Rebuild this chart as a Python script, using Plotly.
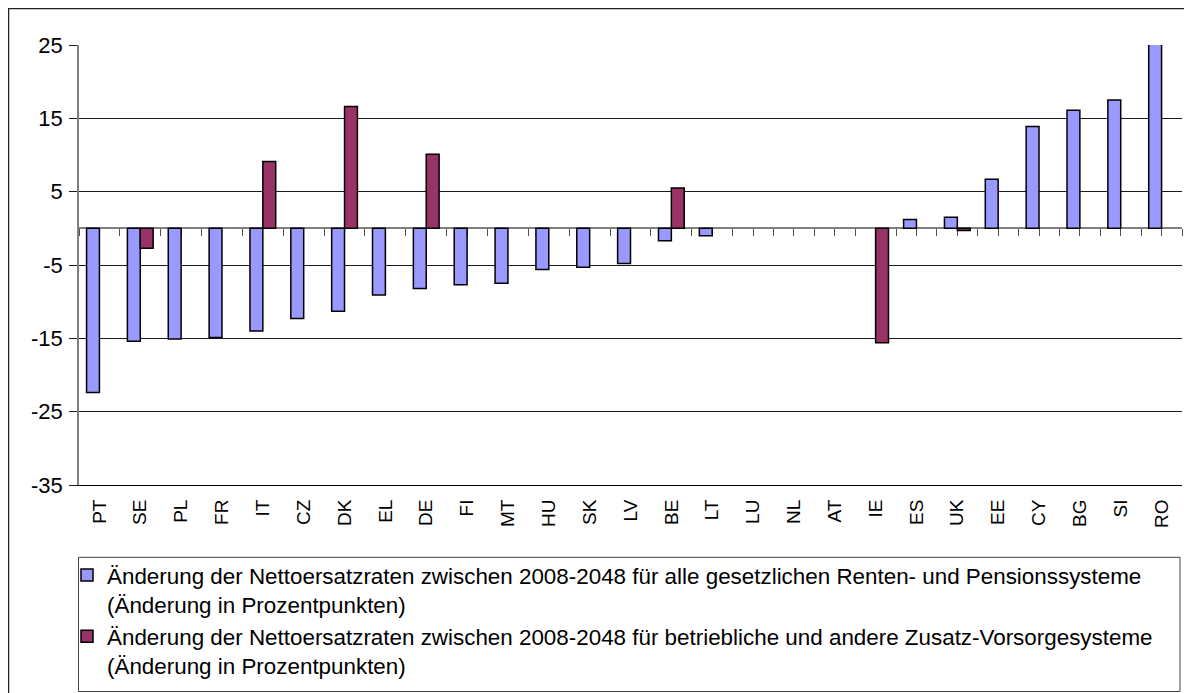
import plotly.graph_objects as go

countries = ["PT", "SE", "PL", "FR", "IT", "CZ", "DK", "EL", "DE", "FI", "MT", "HU", "SK", "LV",
             "BE", "LT", "LU", "NL", "AT", "IE", "ES", "UK", "EE", "CY", "BG", "SI", "RO"]

public_change = [-22.4, -15.4, -15.1, -14.9, -14.0, -12.3, -11.3, -9.1, -8.2, -7.7, -7.5, -5.6, -5.3, -4.8,
                 -1.7, -1.0, None, None, None, None, 1.2, 1.5, 6.7, 13.9, 16.1, 17.5, 25.4]

private_change = [None, -2.7, None, None, 9.1, None, 16.6, None, 10.1, None, None, None, None, None,
                  5.5, None, None, None, None, -15.6, None, -0.3, None, None, None, None, None]

y_ticks = [-35, -25, -15, -5, 5, 15, 25]
y_tick_labels = ["-35", "-25", "-15", "-5", "5", "15", "25"]

name_public = ("Änderung der Nettoersatzraten zwischen 2008-2048 für alle gesetzlichen Renten- und Pensionssysteme"
               "<br>(Änderung in Prozentpunkten)")
name_private = ("Änderung der Nettoersatzraten zwischen 2008-2048 für betriebliche und andere Zusatz-Vorsorgesysteme"
                "<br>(Änderung in Prozentpunkten)")

FONT = "Arial, 'Liberation Sans', sans-serif"

# figure geometry (page has an 8px body margin)
W, H = 1184, 685
ml, mr, mt, mb = 71, 10, 37, 208
pw, ph = W - ml - mr, H - mt - mb


def px_x(p):
    return (p - ml) / pw


def px_y(p):
    return (H - mb - p) / ph


n = len(countries)
ymin, ymax = -35, 25
zero_pos = (0 - ymin) / (ymax - ymin)
half_ticks = [i / 2 - 0.5 for i in range(2 * n + 1)]

fig = go.Figure()
fig.add_trace(go.Bar(x=countries, y=public_change, name=name_public, legendgroup="a",
                     marker=dict(color="#9999FF", line=dict(color="#000000", width=1.5)),
                     cliponaxis=False))
fig.add_trace(go.Bar(x=countries, y=private_change, name=name_private, legendgroup="b",
                     marker=dict(color="#993366", line=dict(color="#000000", width=1.5)),
                     cliponaxis=False))
# empty helper trace so the zero-crossing category axis (ticks) is drawn
fig.add_trace(go.Scatter(x=[], y=[], xaxis="x2", yaxis="y", showlegend=False, hoverinfo="skip"))

fig.update_layout(
    width=W, height=H,
    margin=dict(l=ml, r=mr, t=mt, b=mb, autoexpand=False),
    paper_bgcolor="white", plot_bgcolor="white",
    barmode="group", bargap=0.37, bargroupgap=0,
    font=dict(family=FONT, color="#000000"),
    showlegend=True,
    legend=dict(
        x=px_x(59), y=px_y(546), xanchor="left", yanchor="top",
        font=dict(family=FONT, size=22.4, color="#000000"),
        bgcolor="rgba(0,0,0,0)", borderwidth=0,
        tracegroupgap=0, valign="top", itemwidth=30,
    ),
    xaxis=dict(
        type="category", categoryorder="array", categoryarray=countries,
        range=[-0.5, n - 0.5], automargin=False,
        showgrid=False, showline=True, linecolor="#000000", linewidth=1,
        ticks="", tickangle=-90, ticklabelstandoff=6,
        tickfont=dict(family=FONT, size=19, color="#000000"),
        zeroline=False,
    ),
    xaxis2=dict(
        overlaying="x", anchor="free", position=zero_pos, type="linear", side="bottom",
        range=[-0.5, n - 0.5], showgrid=False, zeroline=False, automargin=False,
        showline=True, linecolor="#808080", linewidth=1.5,
        tickmode="array", tickvals=half_ticks, ticks="outside", ticklen=7,
        tickcolor="#505050", tickwidth=1, showticklabels=False,
        layer="below traces",
    ),
    yaxis=dict(
        range=[ymin, ymax], tickmode="array", tickvals=y_ticks, ticktext=y_tick_labels,
        automargin=False,
        showgrid=True, gridcolor="#1a1a1a", gridwidth=1,
        showline=True, linecolor="#808080", linewidth=1.5,
        ticks="outside", ticklen=8, tickcolor="#1a1a1a", ticklabelstandoff=2,
        tickfont=dict(family=FONT, size=22, color="#000000"),
        zeroline=False,
    ),
    shapes=[
        # outer chart border
        dict(type="rect", xref="paper", yref="paper",
             x0=px_x(0.5), x1=px_x(1200), y0=px_y(720), y1=px_y(0.5),
             line=dict(color="#222222", width=1.5), fillcolor="rgba(0,0,0,0)", layer="below"),
        # legend box
        dict(type="rect", xref="paper", yref="paper",
             x0=px_x(70.5), x1=px_x(1172), y0=px_y(683.5), y1=px_y(549.3),
             line=dict(color="#444444", width=1), fillcolor="rgba(0,0,0,0)", layer="below"),
    ],
)

fig.write_html("out.html")
